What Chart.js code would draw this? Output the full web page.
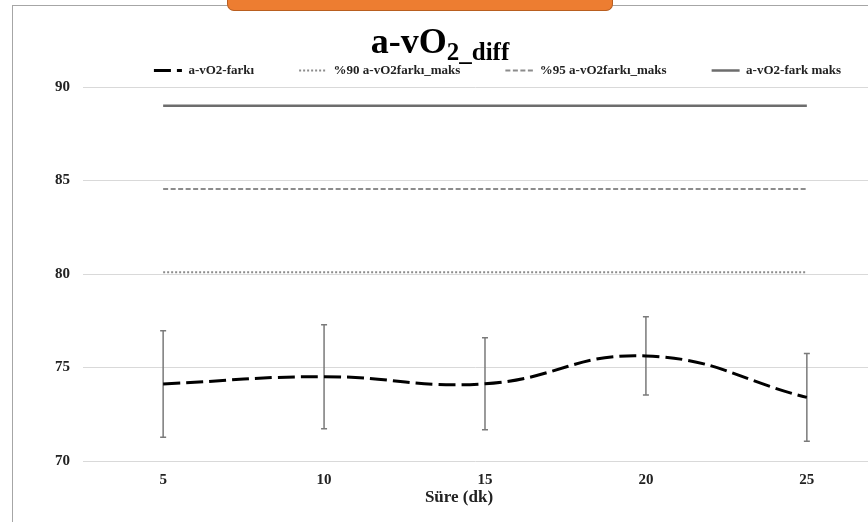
<!DOCTYPE html>
<html>
<head>
<meta charset="utf-8">
<script src="https://cdn.jsdelivr.net/npm/chart.js@4/dist/chart.umd.min.js"></script>
<style>
	html, body { margin: 0; padding: 0; background: #fff; overflow: hidden; }
	#wrap { position: relative; width: 868px; height: 522px; }
	#frame { position: absolute; left: 12px; top: 5px; right: -2px; bottom: -2px; border-left: 1.5px solid #a6a6a6; border-top: 1.5px solid #a6a6a6; }
	#tab { position: absolute; left: 227px; width: 386px; top: -12px; height: 23px; background: #ed7d31; border: 1.5px solid #b95e1f; border-top: none; border-radius: 0 0 7px 7px; box-sizing: border-box; }
	#baslik { position: absolute; left: 0; width: 880px; top: 21px; text-align: center; font-family: 'Liberation Serif', serif; font-weight: bold; font-size: 36px; line-height: 40px; color: #000; }
	#baslik sub { font-size: 25px; vertical-align: -7px; }
	canvas { position: absolute; left: 0; top: 0; }
</style>
</head>
<body>
<div id="wrap">
	<canvas id="chart-avo2" width="868" height="522"></canvas>
	<div id="frame"></div>
	<div id="tab"></div>
	<div id="baslik">a-vO<sub>2_diff</sub></div>
</div>
<script>
// Süre (dk)
const sure = [5, 10, 15, 20, 25];
const yTicks = [70, 75, 80, 85, 90];

// ortalama ve standart sapma
const avo2Fark = [74.12, 74.51, 74.13, 75.62, 73.40];
const avo2Sd = [2.85, 2.78, 2.46, 2.09, 2.35];

// referans çizgileri
const fark90 = [80.1, 80.1, 80.1, 80.1, 80.1];
const fark95 = [84.55, 84.55, 84.55, 84.55, 84.55];
const farkMaks = [89, 89, 89, 89, 89];

const serif = "'Liberation Serif', 'Times New Roman', serif";

function xy(values) {
	return sure.map((x, i) => ({x: x, y: values[i]}));
}

// hata çubukları
const errorBars = {
	id: 'errorBars',
	beforeDatasetsDraw(chart) {
		const meta = chart.getDatasetMeta(0);
		const y = chart.scales.y;
		const ctx = chart.ctx;
		ctx.save();
		ctx.strokeStyle = '#7a7a7a';
		ctx.lineWidth = 1.5;
		meta.data.forEach((pt, i) => {
			const top = y.getPixelForValue(avo2Fark[i] + avo2Sd[i]);
			const bot = y.getPixelForValue(avo2Fark[i] - avo2Sd[i]);
			ctx.beginPath();
			ctx.moveTo(pt.x, top);
			ctx.lineTo(pt.x, bot);
			ctx.moveTo(pt.x - 3, top);
			ctx.lineTo(pt.x + 3, top);
			ctx.moveTo(pt.x - 3, bot);
			ctx.lineTo(pt.x + 3, bot);
			ctx.stroke();
		});
		ctx.restore();
	}
};

// lejantı biraz sağa kaydır
const legendShift = {
	id: 'legendShift',
	afterLayout(chart) {
		chart.legend.left += 22;
		chart.legend.right += 22;
	}
};

const ctx = document.getElementById('chart-avo2').getContext('2d');

new Chart(ctx, {
	type: 'line',
	data: {
		datasets: [
			{
				label: 'a-vO2-farkı',
				data: xy(avo2Fark),
				borderColor: '#000',
				borderWidth: 3,
				borderDash: [17, 6],
				tension: 0.45,
			},
			{
				label: '%90 a-vO2farkı_maks',
				data: xy(fark90),
				borderColor: '#8c8c8c',
				borderWidth: 2,
				borderDash: [2, 2],
			},
			{
				label: '%95 a-vO2farkı_maks',
				data: xy(fark95),
				borderColor: '#8c8c8c',
				borderWidth: 2,
				borderDash: [5, 2.5],
			},
			{
				label: 'a-vO2-fark maks',
				data: xy(farkMaks),
				borderColor: '#6d6d6d',
				borderWidth: 2.5,
			},
		],
	},
	options: {
		responsive: false,
		animation: false,
		elements: {
			point: { radius: 0 },
		},
		layout: {
			padding: { left: 50, right: 0, top: 19, bottom: 14 },
		},
		scales: {
			x: {
				type: 'linear',
				min: 2.51,
				max: 26.9,
				afterBuildTicks: (axis) => {
					axis.ticks = sure.map(v => ({value: v}));
				},
				afterFit: (scale) => { scale.height = 28; },
				grid: { display: false, drawTicks: false },
				border: { display: false },
				ticks: {
					padding: 10,
					color: '#222',
					font: { family: serif, size: 15, weight: 'bold' },
				},
			},
			y: {
				min: 70,
				max: 90,
				afterBuildTicks: (axis) => {
					axis.ticks = yTicks.map(v => ({value: v}));
				},
				afterFit: (scale) => { scale.width = 33; },
				border: { display: false },
				grid: { color: '#d9d9d9', lineWidth: 1, drawTicks: false },
				ticks: {
					padding: 13,
					color: '#222',
					font: { family: serif, size: 15, weight: 'bold' },
				},
			},
		},
		plugins: {
			legend: {
				position: 'top',
				fullSize: false,
				labels: {
					usePointStyle: true,
					pointStyle: 'line',
					pointStyleWidth: 28,
					padding: 45,
					color: '#222',
					font: { family: serif, size: 13, weight: 'bold' },
					generateLabels(chart) {
						const items = Chart.defaults.plugins.legend.labels.generateLabels(chart);
						items.forEach(it => {
							const ds = chart.data.datasets[it.datasetIndex];
							it.lineDash = ds.borderDash || [];
							it.lineWidth = ds.borderWidth;
							it.strokeStyle = ds.borderColor;
						});
						return items;
					},
				},
			},
			title: {
				display: true,
				position: 'bottom',
				text: 'Süre (dk)',
				color: '#222',
				font: { family: serif, size: 17, weight: 'bold', lineHeight: 1 },
				padding: { top: 0, bottom: 2 },
			},
			tooltip: { enabled: false },
		},
	},
	plugins: [errorBars, legendShift],
});
</script>
</body>
</html>
